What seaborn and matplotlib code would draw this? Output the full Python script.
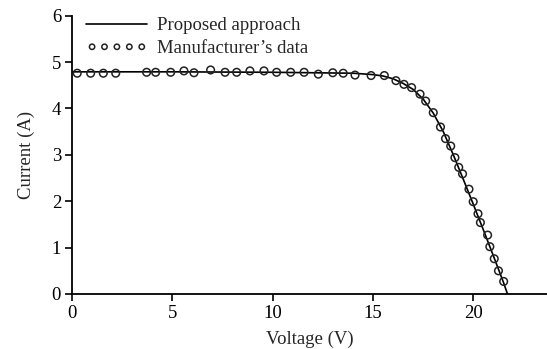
import matplotlib
matplotlib.use("Agg")
import matplotlib.pyplot as plt
import seaborn as sns
import pandas as pd

# Proposed approach (solid line)
model_v = [0, 5, 10, 14, 15, 15.5, 16, 16.5, 17, 17.5, 18, 18.5, 19, 19.5, 20, 20.5, 21, 21.5, 21.7]
model_i = [4.79, 4.79, 4.78, 4.76, 4.73, 4.70, 4.64, 4.54, 4.41, 4.20, 3.90, 3.50, 3.00, 2.47, 1.93, 1.38, 0.82, 0.25, 0.0]

# Manufacturer's data (open circles)
meas_v = [0.25, 0.92, 1.55, 2.17, 3.71, 4.16, 4.91, 5.57, 6.07, 6.90, 7.62, 8.20, 8.86, 9.56,
          10.19, 10.89, 11.56, 12.27, 12.99, 13.51, 14.10, 14.90, 15.56, 16.14, 16.54, 16.92,
          17.34, 17.62, 18.00, 18.36, 18.61, 18.87, 19.08, 19.27, 19.46, 19.78, 19.99, 20.23,
          20.35, 20.71, 20.82, 21.04, 21.25, 21.51]
meas_i = [4.76, 4.76, 4.76, 4.76, 4.78, 4.78, 4.78, 4.81, 4.77, 4.83, 4.78, 4.78, 4.81, 4.81,
          4.78, 4.78, 4.78, 4.74, 4.77, 4.76, 4.72, 4.71, 4.71, 4.60, 4.52, 4.45,
          4.31, 4.16, 3.91, 3.60, 3.35, 3.19, 2.94, 2.73, 2.59, 2.26, 1.99, 1.73,
          1.54, 1.27, 1.02, 0.76, 0.50, 0.27]

x_ticks = [0, 5, 10, 15, 20]
y_ticks = [0, 1, 2, 3, 4, 5, 6]

sns.set_style("ticks")
plt.rcParams['font.family'] = ['Liberation Serif', 'DejaVu Serif']

df_model = pd.DataFrame({"V": model_v, "I": model_i})
df_meas = pd.DataFrame({"V": meas_v, "I": meas_i})

fig = plt.figure(figsize=(5.47, 3.49), dpi=100)
ax = fig.add_axes([0.132, 0.1576, 0.868, 0.7974])

sns.lineplot(data=df_model, x="V", y="I", ax=ax, color="black", linewidth=1.2,
             label="Proposed approach", sort=False)
sns.scatterplot(data=df_meas, x="V", y="I", ax=ax, marker="o", s=30,
                facecolor="none", edgecolor="#222222", linewidth=1.1,
                label="Manufacturer\u2019s data", zorder=3)

FS = 13.5
ax.set_xlim(0, 23.67)
ax.set_ylim(0, 6)
ax.set_xticks(x_ticks)
ax.set_yticks(y_ticks)
ax.set_xlabel("Voltage (V)", fontsize=FS, labelpad=6)
ax.set_ylabel("Current (A)", fontsize=FS, labelpad=12)
ax.tick_params(axis="both", direction="out", length=5, width=1.2, labelsize=FS, colors="black", pad=3)
for s in ["left", "bottom"]:
    ax.spines[s].set_linewidth(1.3)
    ax.spines[s].set_color("black")
sns.despine(ax=ax)

leg = ax.legend(loc="upper left", bbox_to_anchor=(0.03, 0.995), frameon=False,
                handlelength=3.25, handletextpad=0.5, labelspacing=0.32,
                scatterpoints=5, scatteryoffsets=[0.5], fontsize=FS,
                borderaxespad=0, borderpad=0, markerscale=0.7)

fig.savefig("out.png", dpi=100)
